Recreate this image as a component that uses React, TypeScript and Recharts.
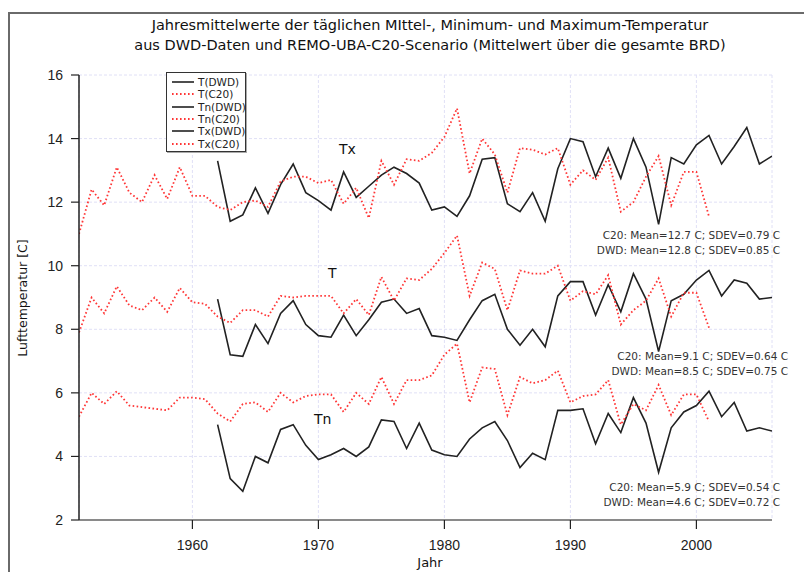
import React from 'react';
import { LineChart, Line, XAxis, YAxis, CartesianGrid } from 'recharts';

const years: number[] = [
  1951, 1952, 1953, 1954, 1955, 1956, 1957, 1958, 1959, 1960,
  1961, 1962, 1963, 1964, 1965, 1966, 1967, 1968, 1969, 1970,
  1971, 1972, 1973, 1974, 1975, 1976, 1977, 1978, 1979, 1980,
  1981, 1982, 1983, 1984, 1985, 1986, 1987, 1988, 1989, 1990,
  1991, 1992, 1993, 1994, 1995, 1996, 1997, 1998, 1999, 2000,
  2001, 2002, 2003, 2004, 2005, 2006,
];

// C20 scenario: 1951-2001
const txC20: number[] = [
  11.0, 12.4, 11.9, 13.1, 12.3, 12.0, 12.85, 12.1, 13.1, 12.2,
  12.2, 11.85, 11.75, 12.0, 12.05, 11.85, 12.65, 12.8, 12.8, 12.6,
  12.7, 11.95, 12.45, 11.5, 13.3, 12.55, 13.35, 13.3, 13.55, 14.05,
  14.95, 12.9, 14.0, 13.5, 12.3, 13.7, 13.65, 13.5, 13.7, 12.55,
  13.0, 12.7, 13.4, 11.7, 12.0, 12.8, 13.45, 11.9, 12.95, 12.95,
  11.55,
];
const tC20: number[] = [
  7.9, 9.0, 8.5, 9.35, 8.75, 8.6, 9.0, 8.55, 9.3, 8.85,
  8.8, 8.4, 8.2, 8.6, 8.6, 8.4, 9.05, 9.0, 9.05, 9.05,
  9.05, 8.5, 8.95, 8.45, 9.65, 8.9, 9.6, 9.55, 9.9, 10.4,
  10.95, 9.05, 10.1, 9.9, 8.6, 9.85, 9.75, 9.75, 10.0, 8.9,
  9.2, 9.1, 9.7, 8.15, 8.6, 8.9, 9.6, 8.4, 9.15, 9.15,
  8.05,
];
const tnC20: number[] = [
  5.25, 6.0, 5.65, 6.05, 5.6, 5.55, 5.5, 5.45, 5.85, 5.85,
  5.8, 5.35, 5.1, 5.65, 5.7, 5.4, 6.0, 5.7, 5.9, 5.95,
  5.95, 5.4, 6.0, 5.65, 6.5, 5.65, 6.4, 6.4, 6.55, 7.2,
  7.55, 5.7, 6.8, 6.75, 5.3, 6.5, 6.3, 6.4, 6.7, 5.7,
  5.9, 5.95, 6.4, 5.0, 5.65, 5.45, 6.25, 5.3, 5.95, 5.95,
  5.1,
];
const c20StartYear = 1951;

// DWD observations: 1962-2006
const txDWD: number[] = [
  13.3, 11.4, 11.6, 12.45, 11.65, 12.55, 13.2, 12.3, 12.05,
  11.75, 12.95, 12.15, 12.5, 12.85, 13.1, 12.9, 12.6, 11.75, 11.85,
  11.55, 12.2, 13.35, 13.4, 11.95, 11.7, 12.3, 11.4, 13.05, 14.0,
  13.9, 12.8, 13.7, 12.75, 14.0, 13.1, 11.3, 13.4, 13.2, 13.8,
  14.1, 13.2, 13.75, 14.35, 13.2, 13.45,
];
const tDWD: number[] = [
  8.95, 7.2, 7.15, 8.15, 7.55, 8.5, 8.9, 8.15, 7.8,
  7.75, 8.45, 7.8, 8.3, 8.85, 8.95, 8.5, 8.65, 7.8, 7.75,
  7.65, 8.3, 8.9, 9.1, 8.0, 7.5, 8.0, 7.45, 9.05, 9.5,
  9.5, 8.45, 9.4, 8.55, 9.75, 8.95, 7.3, 8.9, 9.1, 9.55,
  9.85, 9.05, 9.55, 9.45, 8.95, 9.0,
];
const tnDWD: number[] = [
  5.0, 3.3, 2.9, 4.0, 3.8, 4.85, 5.0, 4.35, 3.9,
  4.05, 4.25, 4.0, 4.3, 5.15, 5.1, 4.25, 5.05, 4.2, 4.05,
  4.0, 4.55, 4.9, 5.1, 4.5, 3.65, 4.1, 3.9, 5.45, 5.45,
  5.5, 4.4, 5.35, 4.75, 5.85, 5.05, 3.5, 4.9, 5.4, 5.6,
  6.05, 5.25, 5.7, 4.8, 4.9, 4.8,
];
const dwdStartYear = 1962;

const xTicks: number[] = [1960, 1970, 1980, 1990, 2000];
const yTicks: number[] = [2, 4, 6, 8, 10, 12, 14, 16];

const titleLines: string[] = [
  'Jahresmittelwerte der täglichen MIttel-, Minimum- und Maximum-Temperatur',
  'aus DWD-Daten und REMO-UBA-C20-Scenario (Mittelwert über die gesamte BRD)',
];

const statsTx: string[] = ['C20: Mean=12.7 C; SDEV=0.79 C', 'DWD: Mean=12.8 C; SDEV=0.85 C'];
const statsT: string[] = ['C20: Mean=9.1 C; SDEV=0.64 C', 'DWD: Mean=8.5 C; SDEV=0.75 C'];
const statsTn: string[] = ['C20: Mean=5.9 C; SDEV=0.54 C', 'DWD: Mean=4.6 C; SDEV=0.72 C'];

const pick = (arr: number[], start: number, y: number): number | null => {
  const i = y - start;
  return i >= 0 && i < arr.length ? arr[i] : null;
};

const data = years.map((y) => ({
  year: y,
  tDWD: pick(tDWD, dwdStartYear, y),
  tC20: pick(tC20, c20StartYear, y),
  tnDWD: pick(tnDWD, dwdStartYear, y),
  tnC20: pick(tnC20, c20StartYear, y),
  txDWD: pick(txDWD, dwdStartYear, y),
  txC20: pick(txC20, c20StartYear, y),
}));

const BLACK = '#222222';
const RED = '#ff3636';
const DOTS = '1.6 2.4';

const series = [
  { key: 'tDWD', name: 'T(DWD)', color: BLACK, dash: undefined as string | undefined, w: 1.6 },
  { key: 'tC20', name: 'T(C20)', color: RED, dash: DOTS, w: 1.8 },
  { key: 'tnDWD', name: 'Tn(DWD)', color: BLACK, dash: undefined as string | undefined, w: 1.6 },
  { key: 'tnC20', name: 'Tn(C20)', color: RED, dash: DOTS, w: 1.8 },
  { key: 'txDWD', name: 'Tx(DWD)', color: BLACK, dash: undefined as string | undefined, w: 1.6 },
  { key: 'txC20', name: 'Tx(C20)', color: RED, dash: DOTS, w: 1.8 },
];

const sans = '"Liberation Sans", Arial, sans-serif';
const dejavu = '"DejaVu Sans", Verdana, sans-serif';

const abs = (s: React.CSSProperties): React.CSSProperties => ({ position: 'absolute', ...s });

const Stats: React.FC<{ lines: string[]; right: number; top: number }> = ({ lines, right, top }) => (
  <div style={abs({ right: 804 - right, top, fontFamily: dejavu, fontSize: 10.5, lineHeight: '15px', color: '#333', textAlign: 'right', whiteSpace: 'nowrap' })}>
    {lines.map((l) => (
      <div key={l}>{l}</div>
    ))}
  </div>
);

export default function App() {
  return (
    <div style={abs({ left: 0, top: 0, width: 804, height: 572, background: '#fff', overflow: 'hidden' })}>
      {/* frame lines */}
      <div style={abs({ left: 8, top: 12, width: 796, height: 2, background: '#6a6a6a' })} />
      <div style={abs({ left: 8, top: 12, width: 1.5, height: 560, background: '#6a6a6a' })} />

      <div style={abs({ left: 0, top: 0, width: 804 })}>
        <LineChart
          width={804}
          height={572}
          data={data}
          margin={{ top: 75, right: 32, bottom: 0, left: 19 }}
        >
          <CartesianGrid stroke="#e0e0f6" strokeDasharray="3 2" strokeWidth={1} />
          <XAxis
            dataKey="year"
            type="number"
            domain={[1951, 2006]}
            ticks={xTicks}
            allowDataOverflow
            height={52}
            tickSize={9}
            tickMargin={11}
            axisLine={{ stroke: '#8a8a8a', strokeWidth: 2 }}
            tickLine={{ stroke: '#222', strokeWidth: 1.2 }}
            tick={{ fill: '#222', fontSize: 14, fontFamily: sans }}
          />
          <YAxis
            type="number"
            domain={[2, 16]}
            ticks={yTicks}
            allowDataOverflow
            width={60}
            tickSize={8}
            tickMargin={8}
            axisLine={{ stroke: '#222', strokeWidth: 1.5 }}
            tickLine={{ stroke: '#222', strokeWidth: 1.2 }}
            tick={{ fill: '#222', fontSize: 14, fontFamily: sans }}
          />
          {series.map((s) => (
            <Line
              key={s.key}
              type="linear"
              dataKey={s.key}
              name={s.name}
              stroke={s.color}
              strokeWidth={s.w}
              strokeDasharray={s.dash}
              dot={false}
              activeDot={false}
              isAnimationActive={false}
            />
          ))}
        </LineChart>
      </div>

      {/* title */}
      <div style={abs({ left: 0, top: 15, width: 860, textAlign: 'center', fontFamily: dejavu, fontSize: 14.5, lineHeight: '20px', color: '#111' })}>
        {titleLines.map((t) => (
          <div key={t}>{t}</div>
        ))}
      </div>

      {/* y axis label */}
      <div style={abs({ left: 22, top: 298, transform: 'translate(-50%, -50%) rotate(-90deg)', fontFamily: dejavu, fontSize: 12.5, whiteSpace: 'nowrap', color: '#111' })}>
        Lufttemperatur [C]
      </div>

      {/* x axis label */}
      <div style={abs({ left: 430, top: 555, transform: 'translateX(-50%)', fontFamily: dejavu, fontSize: 13, lineHeight: '15px', color: '#111' })}>
        Jahr
      </div>

      {/* legend */}
      <div style={abs({ left: 166, top: 72, width: 80, height: 80, border: '1px solid #333', background: '#fff', padding: '3px 0 0 4px', boxSizing: 'border-box', boxShadow: '1px 1px 0 #aaa' })}>
        {series.map((s) => (
          <div key={s.key} style={{ display: 'flex', alignItems: 'center', height: 12.3 }}>
            <svg width={24} height={6} style={{ flex: 'none' }}>
              <line x1={1} y1={3} x2={23} y2={3} stroke={s.color} strokeWidth={s.w} strokeDasharray={s.dash} />
            </svg>
            <span style={{ marginLeft: 3, fontFamily: dejavu, fontSize: 10.5, color: '#222', whiteSpace: 'nowrap' }}>{s.name}</span>
          </div>
        ))}
      </div>

      {/* curve labels */}
      <div style={abs({ left: 339, top: 141, fontFamily: dejavu, fontSize: 14, color: '#111' })}>Tx</div>
      <div style={abs({ left: 328, top: 265, fontFamily: dejavu, fontSize: 14, color: '#111' })}>T</div>
      <div style={abs({ left: 314, top: 411, fontFamily: dejavu, fontSize: 14, color: '#111' })}>Tn</div>

      <Stats lines={statsTx} right={780} top={228} />
      <Stats lines={statsT} right={788} top={349} />
      <Stats lines={statsTn} right={780} top={480} />
    </div>
  );
}
